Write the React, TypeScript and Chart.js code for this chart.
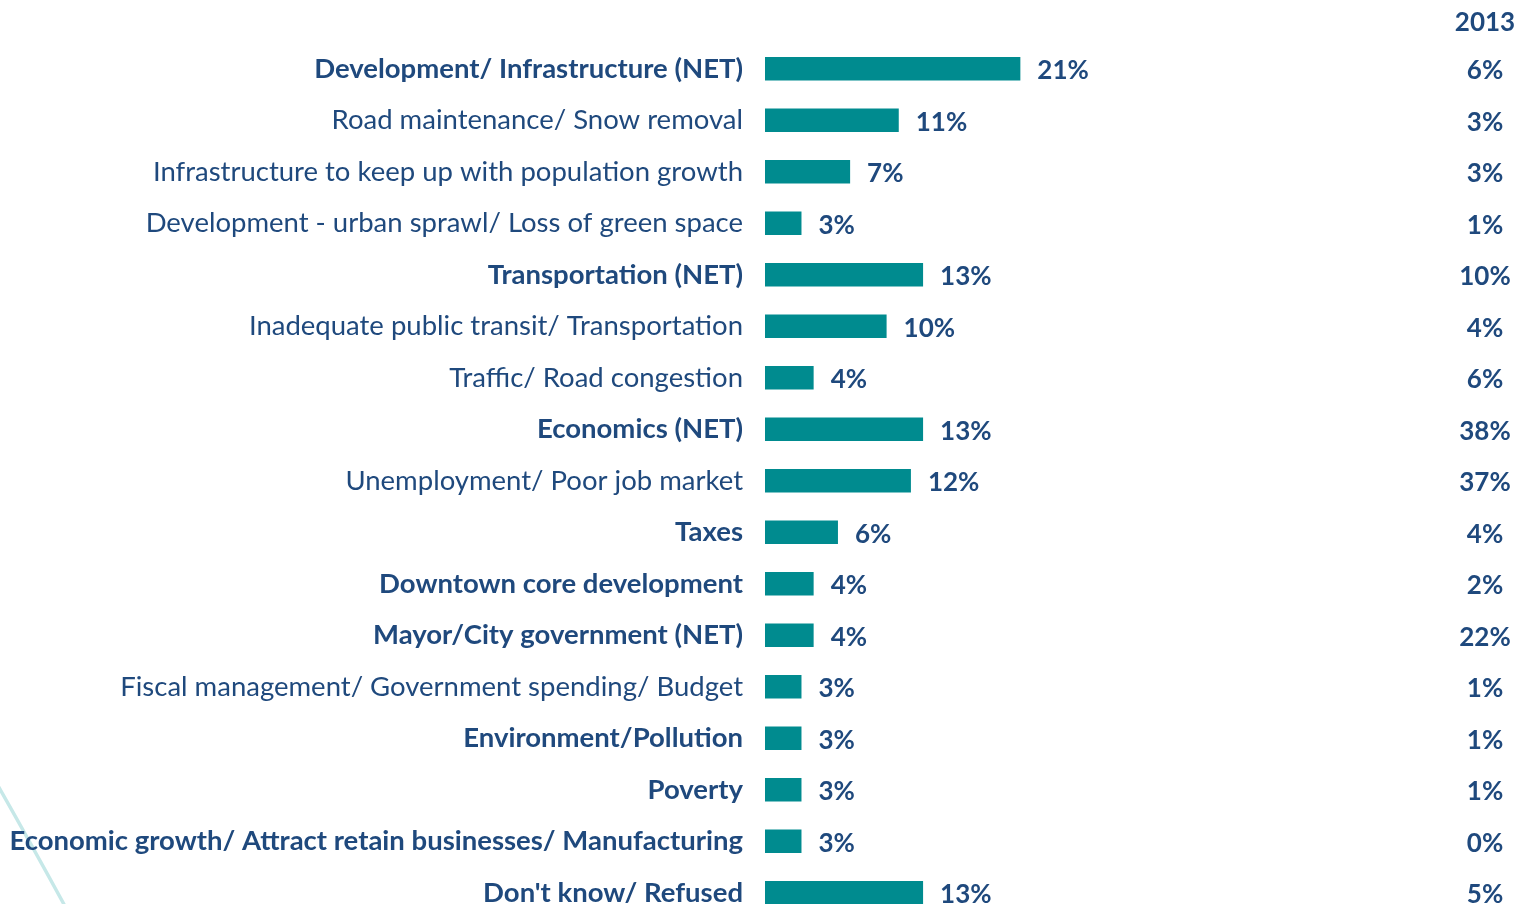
import React, { useEffect, useRef } from "react";
import { Chart, registerables } from "chart.js";

Chart.register(...registerables);

const categories: string[] = [
  "Development/ Infrastructure (NET)",
  "Road maintenance/ Snow removal",
  "Infrastructure to keep up with population growth",
  "Development - urban sprawl/ Loss of green space",
  "Transportation (NET)",
  "Inadequate public transit/ Transportation",
  "Traffic/ Road congestion",
  "Economics (NET)",
  "Unemployment/ Poor job market",
  "Taxes",
  "Downtown core development",
  "Mayor/City government (NET)",
  "Fiscal management/ Government spending/ Budget",
  "Environment/Pollution",
  "Poverty",
  "Economic growth/ Attract retain businesses/ Manufacturing",
  "Don't know/ Refused",
];

const boldRows: boolean[] = [
  true, false, false, false, true, false, false, true, false, true, true, true, false, true, true, true, true,
];

const currentValues: number[] = [21, 11, 7, 3, 13, 10, 4, 13, 12, 6, 4, 4, 3, 3, 3, 3, 13];
const values2013: number[] = [6, 3, 3, 1, 10, 4, 6, 38, 37, 4, 2, 22, 1, 1, 1, 0, 5];
const columnHeader = "2013";

const TEXT = "#1F497D";
const BAR = "#008B8F";
const FONT = "Lato, 'Open Sans', sans-serif";
const LABEL_SIZE = 27.5;
const LABEL_PAD = 22;

export default function App() {
  const ref = useRef<HTMLCanvasElement | null>(null);

  useEffect(() => {
    if (!ref.current) return;

    const decor = {
      id: "decor",
      beforeDraw(chart: any) {
        const ctx = chart.ctx;
        ctx.save();
        ctx.strokeStyle = "#C6E8E8";
        ctx.lineWidth = 3.5;
        ctx.beginPath();
        ctx.moveTo(-3, 784);
        ctx.quadraticCurveTo(30, 842, 66, 908);
        ctx.stroke();
        ctx.restore();
      },
    };

    const labelsPlugin = {
      id: "valueLabels",
      afterDatasetsDraw(chart: any) {
        const ctx = chart.ctx;
        const meta = chart.getDatasetMeta(0);
        ctx.save();
        ctx.fillStyle = TEXT;
        ctx.font = `bold 26px ${FONT}`;
        ctx.textBaseline = "middle";
        meta.data.forEach((bar: any, i: number) => {
          ctx.textAlign = "left";
          ctx.fillText(`${currentValues[i]}%`, bar.x + 17, bar.y + 2);
          ctx.textAlign = "center";
          ctx.fillText(`${values2013[i]}%`, 1485, bar.y + 2);
        });
        ctx.textAlign = "center";
        ctx.fillText(columnHeader, 1485, 23);
        ctx.restore();
      },
    };

    const chart = new Chart(ref.current, {
      type: "bar",
      data: {
        labels: categories,
        datasets: [
          {
            data: currentValues,
            backgroundColor: BAR,
            borderWidth: 0,
            barPercentage: 0.456,
            categoryPercentage: 1,
          },
        ],
      },
      options: {
        indexAxis: "y",
        animation: false,
        responsive: false,
        maintainAspectRatio: false,
        layout: { padding: { left: 0, right: 141, top: 43, bottom: 0 } },
        plugins: { legend: { display: false }, tooltip: { enabled: false } },
        scales: {
          x: { display: false, min: 0, max: 50 },
          y: {
            afterFit: (s: any) => {
              s.width = 765;
            },
            border: { display: false },
            grid: { display: false, drawTicks: false },
            ticks: {
              padding: LABEL_PAD,
              color: TEXT,
              font: (c: any) => ({
                family: FONT,
                size: LABEL_SIZE,
                weight: boldRows[c.index] ? "bold" : "normal",
              }),
            },
          },
        },
      },
      plugins: [decor, labelsPlugin],
    });
    return () => chart.destroy();
  }, []);

  return (
    <div
      style={{
        position: "fixed",
        left: 0,
        top: 0,
        width: 1514,
        height: 904,
        overflow: "hidden",
        background: "#fff",
      }}
    >
      <canvas ref={ref} width={1514} height={957} style={{ display: "block" }} />
    </div>
  );
}
